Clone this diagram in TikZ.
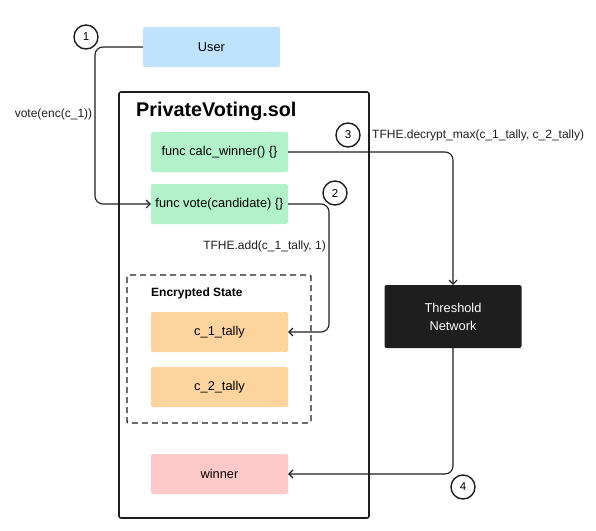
\documentclass[tikz,border=0pt]{standalone}
\usepackage{fontspec}
\setmainfont{Liberation Sans}
\usetikzlibrary{arrows.meta}
\usetikzlibrary{positioning}
\definecolor{userblue}{HTML}{BFE2FD}
\definecolor{funcgreen}{HTML}{B2F2CB}
\definecolor{tallyorange}{HTML}{FDD49E}
\definecolor{winnerpink}{HTML}{FFC9C9}
\definecolor{netblack}{HTML}{1E1E1E}
\definecolor{linegray}{HTML}{1E1E1E}

\begin{document}
\begin{tikzpicture}[x=1pt,y=-1pt,>={Straight Barb[length=4pt,width=8pt]},
    box node/.style={rectangle,rounded corners=2pt,minimum width=137pt,minimum height=40pt,font=\fontsize{12.8}{15}\selectfont,inner sep=0pt},
    step node/.style={circle,draw=linegray,line width=1.4pt,minimum size=24pt,inner sep=0pt,font=\fontsize{11.5}{13}\selectfont},
    flow/.style={->,draw=linegray,line width=1.1pt,rounded corners=8pt},
    label text/.style={font=\fontsize{12}{14}\selectfont,text=linegray,inner sep=0pt}]
   \useasboundingbox (0,0) rectangle (596,530);
   % contract frame
   \draw[linegray,line width=1.6pt,rounded corners=2pt] (119,92) rectangle (369,518);
   \node[anchor=west,inner sep=0pt,font=\fontsize{19.8}{23}\selectfont\bfseries] (title) at (136,111) {PrivateVoting.sol};
   \draw[linegray,line width=1.4pt,dashed,dash pattern=on 6pt off 4pt,rounded corners=2pt] (127,275) rectangle (311,423);
   \node[anchor=west,inner sep=0pt,font=\fontsize{12}{14}\selectfont\bfseries] (state) at (151,293) {Encrypted State};
   % boxes
   \node[box node,fill=userblue] (user) at (211.5,47) {User};
   \node[box node,fill=funcgreen] (calc) at (219.5,152) {func calc\_winner() \{\}};
   \node[box node,fill=funcgreen] (vote) at (219.5,204) {func vote(candidate) \{\}};
   \node[box node,fill=tallyorange] (c1) at (219.5,332) {c\_1\_tally};
   \node[box node,fill=tallyorange] (c2) at (219.5,387) {c\_2\_tally};
   \node[box node,fill=winnerpink] (winner) at (219.5,474) {winner};
   \node[box node,fill=netblack,text=white,minimum height=63pt,align=center] (net) at (453,316.5) {Threshold\\[3pt]Network};
   % steps
   \node[step node] (s1) at (86,37) {1};
   \node[step node] (s2) at (335,193) {2};
   \node[step node] (s3) at (348,135) {3};
   \node[step node] (s4) at (463,487) {4};
   % labels
   \node[label text] (l1) at (53.5,114) {vote(enc(c\_1))};
   \node[label text,anchor=east] (l2) at (326,246) {TFHE.add(c\_1\_tally, 1)};
   \node[label text,anchor=west] (l3) at (372,135) {TFHE.decrypt\_max(c\_1\_tally, c\_2\_tally)};
   % connectors
   \draw[flow] (user.west) -- (95,47) -- (95,204) -- (vote.west);
   \draw[flow] (vote.east) -- (329,204) |- (c1.east);
   \draw[flow] (calc.east) -| (net.north);
   \draw[flow] (net.south) |- (winner.east);
\end{tikzpicture}
\end{document}
